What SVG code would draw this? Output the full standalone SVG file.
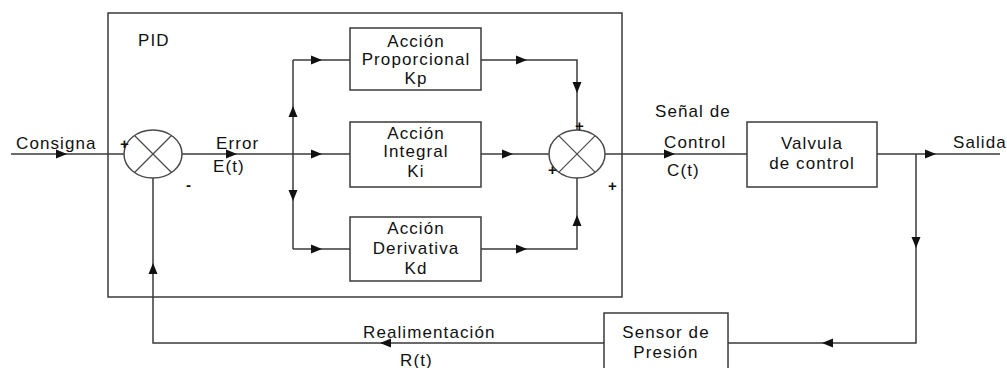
<svg xmlns="http://www.w3.org/2000/svg" xmlns:xlink="http://www.w3.org/1999/xlink" width="1007" height="368" viewBox="0 0 1007 368">
<style>
.box{fill:#fff;stroke:#3a3a3a;stroke-width:1.5}
.frame{fill:none;stroke:#3a3a3a;stroke-width:1.5}
.sum{fill:#fff;stroke:#4a4a4a;stroke-width:1.5}
.x{stroke:#4a4a4a;stroke-width:1.2}
.wire{fill:none;stroke:#3a3a3a;stroke-width:1.5}
.ah{fill:#111}
text{font-family:"Liberation Sans",Arial,sans-serif;font-size:17px;letter-spacing:1.1px;fill:#111}
.c{text-anchor:middle}
.s{font-size:15px;font-weight:bold;letter-spacing:0}
</style>
<defs>
<path id="ah" d="M0,0 L-11,-4.5 L-11,4.5 Z"/>
</defs>
<rect width="1007" height="368" fill="#fff"/>
<g id="pid-frame">
<rect class="frame" x="108" y="13" width="514" height="284"/>
<text x="138" y="46">PID</text>
</g>
<g id="connectors">
<path class="wire" d="M11,154 H124"/>
<path class="wire" d="M182,154 H350"/>
<path class="wire" d="M293,60 V249"/>
<path class="wire" d="M293,60 H350"/>
<path class="wire" d="M293,249 H350"/>
<path class="wire" d="M481,60 H577 V130"/>
<path class="wire" d="M481,154 H549"/>
<path class="wire" d="M481,249 H577 V178"/>
<path class="wire" d="M605,154 H747"/>
<path class="wire" d="M877,154 H1000"/>
<path class="wire" d="M916,154 V343 H728"/>
<path class="wire" d="M604,343 H153 V178"/>
<g class="ah">
<use xlink:href="#ah" transform="translate(67,154)"/>
<use xlink:href="#ah" transform="translate(237,154)"/>
<use xlink:href="#ah" transform="translate(322,154)"/>
<use xlink:href="#ah" transform="translate(322,60)"/>
<use xlink:href="#ah" transform="translate(322,249)"/>
<use xlink:href="#ah" transform="translate(293,106) rotate(-90)"/>
<use xlink:href="#ah" transform="translate(293,201) rotate(90)"/>
<use xlink:href="#ah" transform="translate(527,60)"/>
<use xlink:href="#ah" transform="translate(577,93) rotate(90)"/>
<use xlink:href="#ah" transform="translate(513,154)"/>
<use xlink:href="#ah" transform="translate(527,249)"/>
<use xlink:href="#ah" transform="translate(577,215) rotate(-90)"/>
<use xlink:href="#ah" transform="translate(675,154)"/>
<use xlink:href="#ah" transform="translate(936,154)"/>
<use xlink:href="#ah" transform="translate(916,248) rotate(90)"/>
<use xlink:href="#ah" transform="translate(822,343) rotate(180)"/>
<use xlink:href="#ah" transform="translate(380,343) rotate(180)"/>
<use xlink:href="#ah" transform="translate(153,263) rotate(-90)"/>
</g>
</g>
<g id="sum1">
<ellipse class="sum" cx="153" cy="154" rx="29" ry="24"/>
<line class="x" x1="134.5" y1="135.5" x2="171.5" y2="172.5"/>
<line class="x" x1="134.5" y1="172.5" x2="171.5" y2="135.5"/>
<text class="s" x="120" y="149">+</text>
<text class="s" x="186" y="190">-</text>
</g>
<g id="sum2">
<ellipse class="sum" cx="577" cy="154" rx="28" ry="24"/>
<line class="x" x1="558.7" y1="135.7" x2="595.3" y2="172.3"/>
<line class="x" x1="558.7" y1="172.3" x2="595.3" y2="135.7"/>
<text class="s" x="575" y="131">+</text>
<text class="s" x="548" y="175">+</text>
<text class="s" x="608" y="191">+</text>
</g>
<g id="p-block">
<rect class="box" x="350" y="28" width="131" height="62"/>
<text class="c" x="416" y="47">Acción</text>
<text class="c" x="416" y="65">Proporcional</text>
<text class="c" x="416" y="84">Kp</text>
</g>
<g id="i-block">
<rect class="box" x="350" y="122" width="131" height="65"/>
<text class="c" x="416" y="139">Acción</text>
<text class="c" x="416" y="157">Integral</text>
<text class="c" x="416" y="177">Ki</text>
</g>
<g id="d-block">
<rect class="box" x="350" y="217" width="131" height="64"/>
<text class="c" x="416" y="234">Acción</text>
<text class="c" x="416" y="254">Derivativa</text>
<text class="c" x="416" y="274">Kd</text>
</g>
<g id="valve">
<rect class="box" x="747" y="122" width="130" height="65"/>
<text class="c" x="812" y="149">Valvula</text>
<text class="c" x="812" y="169">de control</text>
</g>
<g id="sensor">
<rect class="box" x="604" y="313" width="124" height="62"/>
<text class="c" x="666" y="338">Sensor de</text>
<text class="c" x="666" y="358">Presión</text>
</g>
<g id="labels">
<text x="16" y="149">Consigna</text>
<text x="216" y="149">Error</text>
<text x="213" y="172">E(t)</text>
<text x="655" y="117">Señal de</text>
<text x="664" y="148">Control</text>
<text x="667" y="176">C(t)</text>
<text x="953" y="148">Salida</text>
<text x="363" y="338">Realimentación</text>
<text x="400" y="366">R(t)</text>
</g>
</svg>
